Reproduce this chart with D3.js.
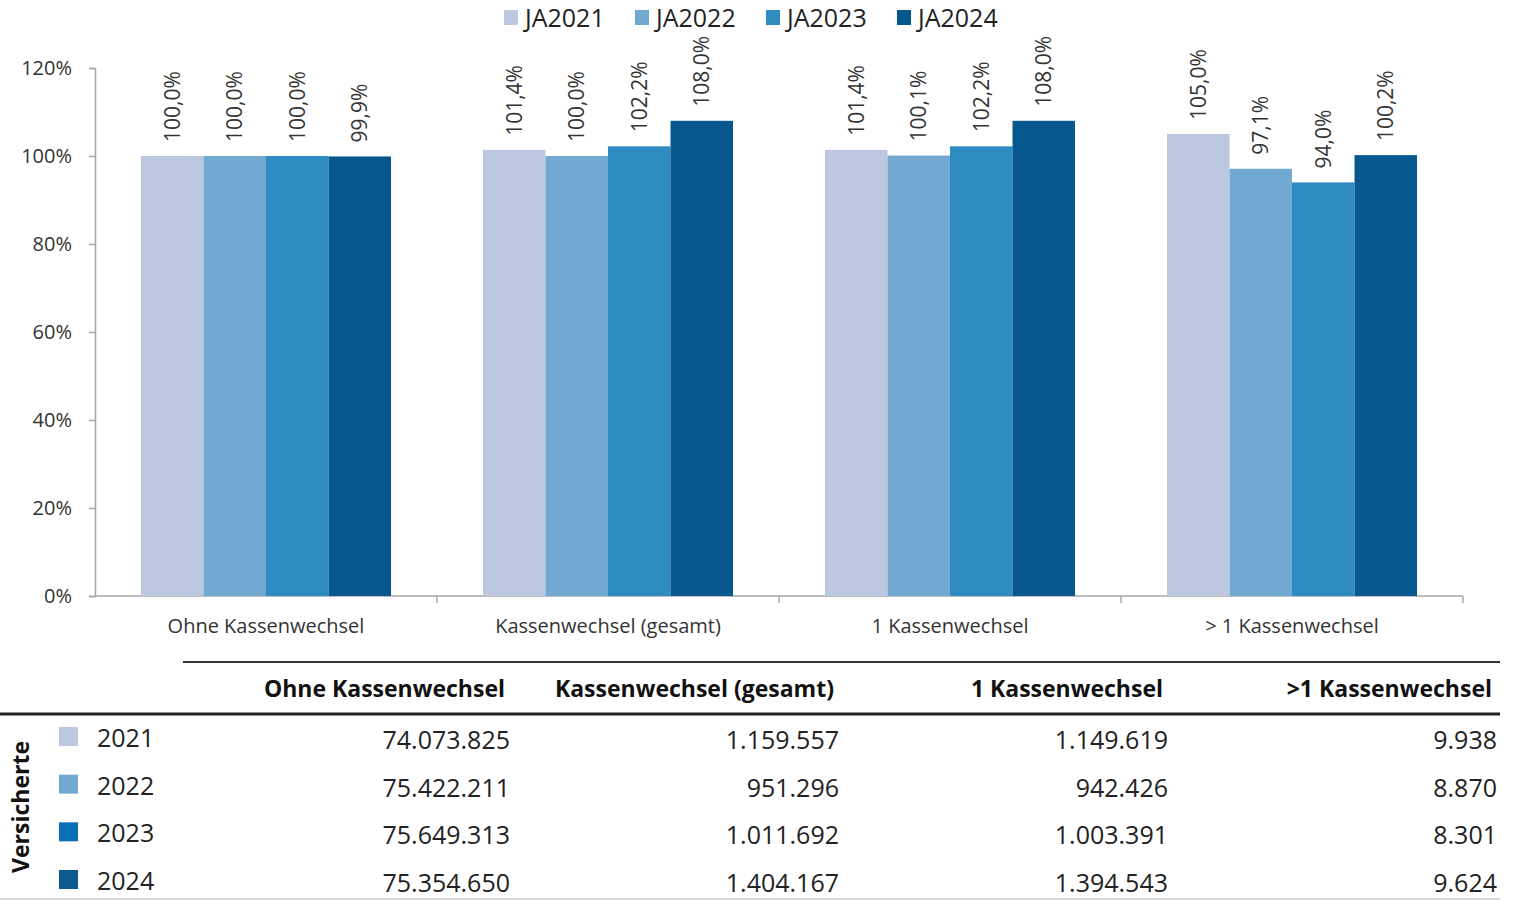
<!DOCTYPE html>
<html>
<head>
<meta charset="utf-8">
<script src="https://cdn.jsdelivr.net/npm/d3@7"></script>
<style>
  body { margin: 0; background: #fff; }
  svg { font-family: "Open Sans", "DejaVu Sans", sans-serif; }
</style>
</head>
<body>
<div id="chart"></div>
<script>
// Kategorien und Werte (in %)
const categories = ['Ohne Kassenwechsel', 'Kassenwechsel (gesamt)', '1 Kassenwechsel', '> 1 Kassenwechsel'];
const series = ['JA2021', 'JA2022', 'JA2023', 'JA2024'];
const ja2021 = [100.0, 101.4, 101.4, 105.0];
const ja2022 = [100.0, 100.0, 100.1, 97.1];
const ja2023 = [100.0, 102.2, 102.2, 94.0];
const ja2024 = [99.9, 108.0, 108.0, 100.2];
const yTicks = [0, 20, 40, 60, 80, 100, 120];

// Tabelle
const tableHeaders = ['Ohne Kassenwechsel', 'Kassenwechsel (gesamt)', '1 Kassenwechsel', '>1 Kassenwechsel'];
const years = ['2021', '2022', '2023', '2024'];
const versicherte2021 = ['74.073.825', '1.159.557', '1.149.619', '9.938'];
const versicherte2022 = ['75.422.211', '951.296', '942.426', '8.870'];
const versicherte2023 = ['75.649.313', '1.011.692', '1.003.391', '8.301'];
const versicherte2024 = ['75.354.650', '1.404.167', '1.394.543', '9.624'];

const colors = ['#bcc8e0', '#72a9d2', '#2e8cc0', '#07588e'];
const tableColors = ['#bcc8e0', '#72a9d2', '#0b6fb6', '#0c5a8e'];

const values = [ja2021, ja2022, ja2023, ja2024];
const rows = [versicherte2021, versicherte2022, versicherte2023, versicherte2024];

const width = 1522, height = 901;
const de = d3.formatLocale({ decimal: ',', thousands: '.', grouping: [3], currency: ['', '€'] });
const fmt = de.format('.1f');

const svg = d3.select('#chart').append('svg')
  .attr('width', width)
  .attr('height', height);

// Skalen
const x0 = d3.scaleBand().domain(categories).range([95, 1463]);
const x1 = d3.scaleBand().domain(series).range([46, 296]);
const y = d3.scaleLinear().domain([0, 120]).range([596, 68]);

// y-Achse
const yAxis = svg.append('g')
  .attr('transform', 'translate(95,0)')
  .call(d3.axisLeft(y).tickValues(yTicks).tickSize(6).tickPadding(17).tickFormat(d => d + '%'));
yAxis.selectAll('path, line').attr('stroke', '#a6a6a6').attr('stroke-width', 1.5);
yAxis.selectAll('text').attr('font-size', 20).attr('fill', '#333').attr('font-family', '"Open Sans", sans-serif');

// x-Achse
const xAxis = svg.append('g').attr('transform', 'translate(0,596)');
xAxis.append('line').attr('x1', 95).attr('x2', 1463).attr('stroke', '#a6a6a6').attr('stroke-width', 1.5);
xAxis.selectAll('line.tick')
  .data(categories)
  .enter()
  .append('line')
  .attr('class', 'tick')
  .attr('x1', d => x0(d) + x0.bandwidth())
  .attr('x2', d => x0(d) + x0.bandwidth())
  .attr('y2', 7)
  .attr('stroke', '#a6a6a6').attr('stroke-width', 1.5);
xAxis.selectAll('text')
  .data(categories)
  .enter()
  .append('text')
  .attr('x', d => x0(d) + x0.bandwidth() / 2)
  .attr('y', 37)
  .attr('text-anchor', 'middle')
  .attr('font-size', 20)
  .attr('fill', '#333')
  .text(d => d);

// Balken
const groups = svg.append('g')
  .selectAll('g')
  .data(categories)
  .enter()
  .append('g')
  .attr('transform', d => `translate(${x0(d)},0)`);

const bars = groups.selectAll('g')
  .data((d, i) => series.map((s, j) => ({ s: s, j: j, v: values[j][i] })))
  .enter()
  .append('g');

bars.append('rect')
  .attr('x', d => x1(d.s))
  .attr('y', d => y(d.v))
  .attr('width', x1.bandwidth())
  .attr('height', d => y(0) - y(d.v))
  .attr('fill', d => colors[d.j]);

bars.append('text')
  .attr('transform', d => `translate(${x1(d.s) + x1.bandwidth() / 2 + 2},${y(d.v) - 14}) rotate(-90)`)
  .attr('dominant-baseline', 'middle')
  .attr('font-size', 21)
  .attr('fill', '#333')
  .text(d => fmt(d.v) + '%');

// Legende
const legendX = [504, 635, 766, 897];
const legend = svg.append('g')
  .selectAll('g')
  .data(series)
  .enter()
  .append('g')
  .attr('transform', (d, i) => `translate(${legendX[i]},10)`);
legend.append('rect').attr('width', 14).attr('height', 15).attr('fill', (d, i) => colors[i]);
legend.append('text')
  .attr('x', 21).attr('y', 17)
  .attr('font-size', 25)
  .attr('fill', '#222')
  .text(d => d);

// Tabelle
const colX = d3.scalePoint().domain(tableHeaders).range([510, 1497]);
const rowY = d3.scalePoint().domain(years).range([738, 881]);

svg.append('line').attr('x1', 183).attr('x2', 1500).attr('y1', 662).attr('y2', 662)
  .attr('stroke', '#333').attr('stroke-width', 2);
svg.append('line').attr('x1', 0).attr('x2', 1500).attr('y1', 714).attr('y2', 714)
  .attr('stroke', '#222').attr('stroke-width', 3);
svg.append('line').attr('x1', 0).attr('x2', 1500).attr('y1', 899).attr('y2', 899)
  .attr('stroke', '#ccc').attr('stroke-width', 1.5);

svg.append('g')
  .selectAll('text')
  .data(tableHeaders)
  .enter()
  .append('text')
  .attr('x', d => colX(d) - 5)
  .attr('y', 697)
  .attr('text-anchor', 'end')
  .attr('font-size', 23)
  .attr('font-weight', 'bold')
  .attr('fill', '#111')
  .text(d => d);

const tRows = svg.append('g')
  .selectAll('g')
  .data(years)
  .enter()
  .append('g')
  .attr('transform', d => `translate(0,${rowY(d)})`);

tRows.append('rect')
  .attr('x', 59).attr('y', -11)
  .attr('width', 19).attr('height', 19)
  .attr('fill', (d, i) => tableColors[i]);
tRows.append('text')
  .attr('x', 97).attr('y', 9)
  .attr('font-size', 25)
  .attr('fill', '#222')
  .text(d => d);
tRows.selectAll('text.val')
  .data((d, i) => rows[i].map((v, j) => ({ v: v, h: tableHeaders[j] })))
  .enter()
  .append('text')
  .attr('class', 'val')
  .attr('x', d => colX(d.h))
  .attr('y', 11)
  .attr('text-anchor', 'end')
  .attr('font-size', 25)
  .attr('fill', '#222')
  .text(d => d.v);

svg.append('text')
  .attr('transform', 'translate(29,807) rotate(-90)')
  .attr('text-anchor', 'middle')
  .attr('font-size', 23)
  .attr('font-weight', 'bold')
  .attr('fill', '#111')
  .text('Versicherte');
</script>
</body>
</html>
